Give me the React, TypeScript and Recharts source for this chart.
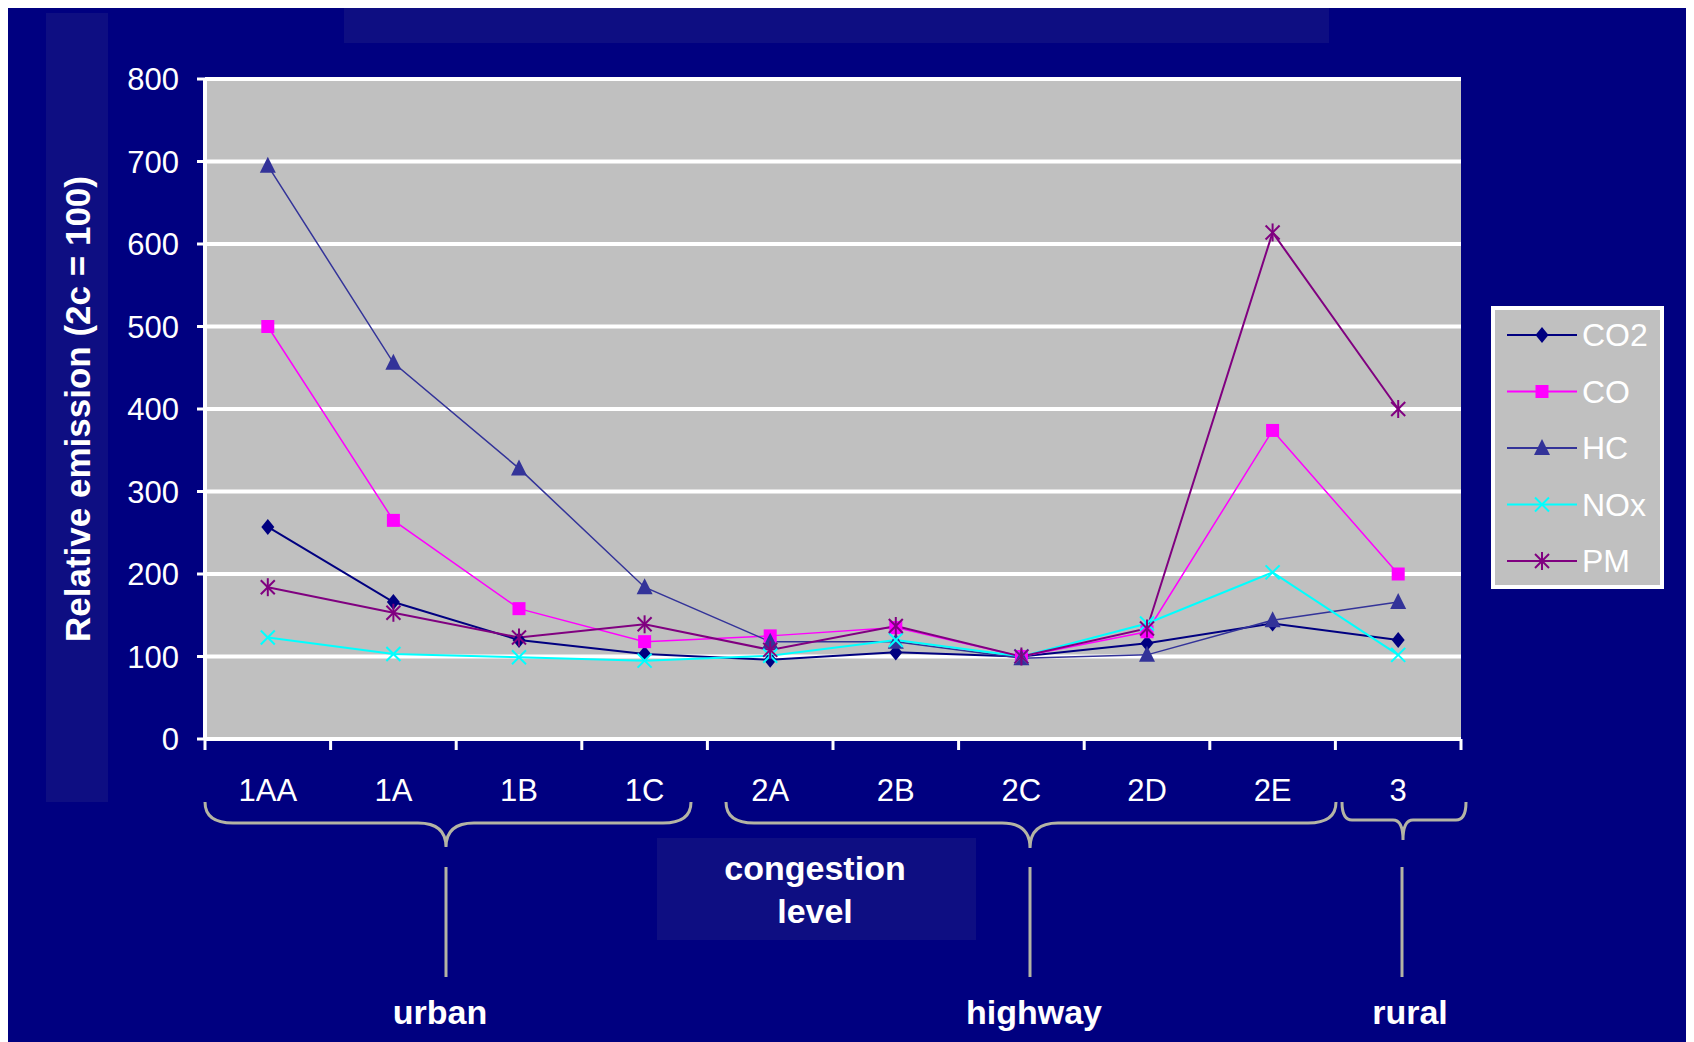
import { LineChart, Line, XAxis, YAxis, CartesianGrid } from 'recharts';

const CATEGORIES = ['1AA', '1A', '1B', '1C', '2A', '2B', '2C', '2D', '2E', '3'];
const CO2 = [257, 166, 120, 103, 96, 105, 100, 116, 140, 120];
const CO = [500, 265, 158, 118, 125, 135, 100, 130, 374, 200];
const HC = [695, 456, 328, 184, 118, 118, 98, 102, 144, 166];
const NOX = [123, 103, 99, 95, 101, 120, 100, 140, 202, 102];
const PM = [184, 153, 123, 139, 108, 137, 100, 134, 614, 400];
const Y_TICKS = [0, 100, 200, 300, 400, 500, 600, 700, 800];

const SERIES = [
    { key: 'co2', name: 'CO2', values: CO2, color: '#000080', shape: 'diamond', width: 2 },
    { key: 'co', name: 'CO', values: CO, color: '#FF00FF', shape: 'square', width: 1.5 },
    { key: 'hc', name: 'HC', values: HC, color: '#333399', shape: 'triangle', width: 1.5 },
    { key: 'nox', name: 'NOx', values: NOX, color: '#00FFFF', shape: 'cross', width: 2 },
    { key: 'pm', name: 'PM', values: PM, color: '#800080', shape: 'star', width: 2 },
];

const data = CATEGORIES.map((c, i) => {
    const row: Record<string, string | number> = { cat: c };
    SERIES.forEach(s => { row[s.key] = s.values[i]; });
    return row;
});

const NAVY = '#000080';
const STRIP = '#0E0E82';
const FONT = '"Liberation Sans", Arial, sans-serif';
const W = 1686;
const H = 1034;
const PLOT_LEFT = 197;
const PLOT_RIGHT = 1453;
const PLOT_TOP = 71;
const PLOT_BOTTOM = 731;
const Y_AXIS_W = 90;
const X_AXIS_H = 80;
const X_TICK_MARGIN = 10;
const STEP = (PLOT_RIGHT - PLOT_LEFT) / CATEGORIES.length;

function Marker({ shape, cx, cy, color }: { shape: string; cx: number; cy: number; color: string }) {
    switch (shape) {
        case 'diamond':
            return <polygon points={`${cx},${cy - 8} ${cx + 6.5},${cy} ${cx},${cy + 8} ${cx - 6.5},${cy}`} fill={color} />;
        case 'square':
            return <rect x={cx - 6.5} y={cy - 6.5} width={13} height={13} fill={color} />;
        case 'triangle':
            return <polygon points={`${cx},${cy - 9} ${cx + 8},${cy + 7} ${cx - 8},${cy + 7}`} fill={color} />;
        case 'cross':
            return (
                <g stroke={color} strokeWidth={2}>
                    <line x1={cx - 7} y1={cy - 7} x2={cx + 7} y2={cy + 7} />
                    <line x1={cx - 7} y1={cy + 7} x2={cx + 7} y2={cy - 7} />
                </g>
            );
        default:
            return (
                <g stroke={color} strokeWidth={2}>
                    <line x1={cx - 7} y1={cy - 7} x2={cx + 7} y2={cy + 7} />
                    <line x1={cx - 7} y1={cy + 7} x2={cx + 7} y2={cy - 7} />
                    <line x1={cx} y1={cy - 9} x2={cx} y2={cy + 9} />
                </g>
            );
    }
}

const CategoryTick = (props: any) => {
    const { x, y, payload, index } = props;
    const axisY = y - X_TICK_MARGIN;
    const half = STEP / 2;
    return (
        <g>
            <line x1={x - half} x2={x - half} y1={axisY} y2={axisY + 11} stroke="#fff" strokeWidth={3} />
            {index === CATEGORIES.length - 1 && (
                <line x1={x + half} x2={x + half} y1={axisY} y2={axisY + 11} stroke="#fff" strokeWidth={3} />
            )}
            <text x={x} y={axisY + 62} textAnchor="middle" fill="#fff" fontSize={31} fontFamily={FONT}>
                {payload.value}
            </text>
        </g>
    );
};

function brace(x1: number, xm: number, x2: number, y0: number, y1: number, y2: number, r: number) {
    return `M ${x1} ${y0} Q ${x1} ${y1} ${x1 + r} ${y1} L ${xm - r} ${y1} Q ${xm} ${y1} ${xm} ${y2} `
        + `Q ${xm} ${y1} ${xm + r} ${y1} L ${x2 - r} ${y1} Q ${x2} ${y1} ${x2} ${y0}`;
}

const BRACE_COLOR = '#B4B4A4';

export default function App() {
    return (
        <div style={{ position: 'relative', width: W, height: H, background: NAVY, overflow: 'hidden', fontFamily: FONT }}>
            <style>{'html,body{overflow:hidden}'}</style>
            {/* background strips */}
            <div style={{ position: 'absolute', left: 336, top: 0, width: 985, height: 35, background: STRIP }} />
            <div style={{ position: 'absolute', left: 38, top: 5, width: 62, height: 789, background: STRIP }} />

            <div style={{ position: 'absolute', left: 0, top: 0 }}>
                <LineChart
                    width={W}
                    height={H}
                    data={data}
                    margin={{ top: PLOT_TOP, right: W - PLOT_RIGHT, left: PLOT_LEFT - Y_AXIS_W, bottom: H - PLOT_BOTTOM - X_AXIS_H }}
                >
                    <CartesianGrid vertical={false} stroke="#fff" strokeWidth={4} fill="#C0C0C0" fillOpacity={1} />
                    <XAxis
                        dataKey="cat"
                        scale="point"
                        padding={{ left: STEP / 2, right: STEP / 2 }}
                        height={X_AXIS_H}
                        interval={0}
                        tickLine={false}
                        tickSize={0}
                        tickMargin={X_TICK_MARGIN}
                        axisLine={{ stroke: '#fff', strokeWidth: 4 }}
                        tick={<CategoryTick />}
                    />
                    <YAxis
                        width={Y_AXIS_W}
                        domain={[0, 800]}
                        ticks={Y_TICKS}
                        interval={0}
                        tickSize={8}
                        tickMargin={18}
                        tickLine={{ stroke: '#fff', strokeWidth: 3 }}
                        axisLine={{ stroke: '#fff', strokeWidth: 4 }}
                        tick={{ fill: '#fff', fontSize: 31, fontFamily: FONT }}
                    />
                    <YAxis
                        yAxisId="right"
                        orientation="right"
                        width={0}
                        domain={[0, 800]}
                        tick={false}
                        tickLine={false}
                        axisLine={{ stroke: '#fff', strokeWidth: 4 }}
                    />
                    {SERIES.map(s => (
                        <Line
                            key={s.key}
                            dataKey={s.key}
                            name={s.name}
                            stroke={s.color}
                            strokeWidth={s.width}
                            isAnimationActive={false}
                            dot={(p: any) => (
                                <Marker key={`${s.key}-${p.index}`} shape={s.shape} cx={p.cx} cy={p.cy} color={s.color} />
                            )}
                            activeDot={false}
                        />
                    ))}
                </LineChart>
            </div>

            {/* y-axis title */}
            <div
                style={{
                    position: 'absolute', left: 70, top: 401, transform: 'translate(-50%, -50%) rotate(-90deg)',
                    whiteSpace: 'nowrap', color: '#fff', fontSize: 35, fontWeight: 'bold',
                }}
            >
                Relative emission (2c = 100)
            </div>

            {/* legend */}
            <div
                style={{
                    position: 'absolute', left: 1483, top: 298, width: 173, height: 283, boxSizing: 'border-box',
                    background: '#C0C0C0', border: '4px solid #fff',
                }}
            >
                <svg width={165} height={275}>
                    {SERIES.map((s, i) => {
                        const cy = 25 + i * 56.5;
                        return (
                            <g key={s.key}>
                                <line x1={12} x2={82} y1={cy} y2={cy} stroke={s.color} strokeWidth={2} />
                                <Marker shape={s.shape} cx={47} cy={cy} color={s.color} />
                                <text x={87} y={cy + 11} fill="#fff" fontSize={32} fontFamily={FONT}>{s.name}</text>
                            </g>
                        );
                    })}
                </svg>
            </div>

            {/* congestion level box */}
            <div style={{ position: 'absolute', left: 649, top: 830, width: 319, height: 102, background: STRIP }} />

            <svg width={W} height={H} style={{ position: 'absolute', left: 0, top: 0, pointerEvents: 'none' }}>
                <path d={brace(197, 438, 683, 794, 815, 839, 28)} fill="none" stroke={BRACE_COLOR} strokeWidth={3} />
                <path d={brace(718, 1022, 1328, 794, 815, 840, 28)} fill="none" stroke={BRACE_COLOR} strokeWidth={3} />
                <path d={brace(1334, 1395, 1458, 794, 812, 832, 10)} fill="none" stroke={BRACE_COLOR} strokeWidth={3} />
                <line x1={438} x2={438} y1={859} y2={969} stroke={BRACE_COLOR} strokeWidth={3} />
                <line x1={1022} x2={1022} y1={859} y2={969} stroke={BRACE_COLOR} strokeWidth={3} />
                <line x1={1394} x2={1394} y1={859} y2={969} stroke={BRACE_COLOR} strokeWidth={3} />
                <g fill="#fff" fontFamily={FONT} fontWeight="bold" fontSize={34} textAnchor="middle">
                    <text x={807} y={872}>congestion</text>
                    <text x={807} y={915}>level</text>
                    <text x={432} y={1016}>urban</text>
                    <text x={1026} y={1016}>highway</text>
                    <text x={1402} y={1016}>rural</text>
                </g>
            </svg>
        </div>
    );
}
